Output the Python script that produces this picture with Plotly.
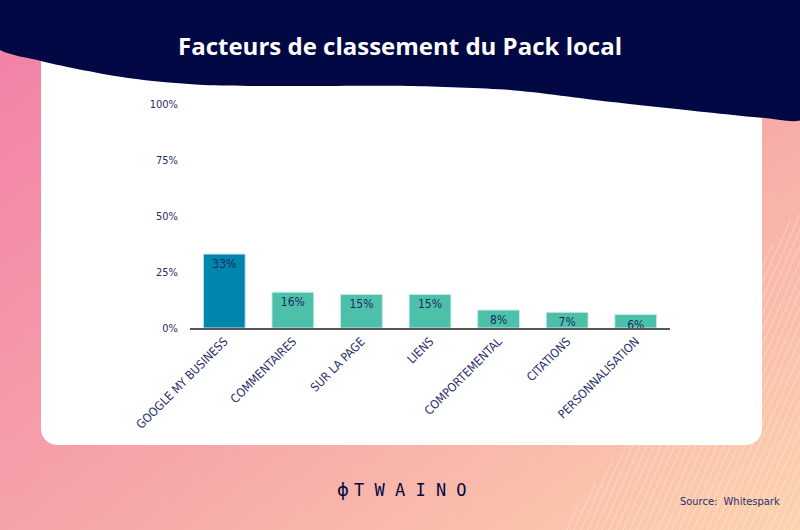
import numpy as np
import plotly.graph_objects as go

# data
categories = ["GOOGLE MY BUSINESS", "COMMENTAIRES", "SUR LA PAGE", "LIENS",
              "COMPORTEMENTAL", "CITATIONS", "PERSONNALISATION"]
values = [33, 16, 15, 15, 8, 7, 6]
bar_colors = ["#0085ad"] + ["#4dc0aa"] * 6
y_ticks = [0, 25, 50, 75, 100]
y_tick_labels = [f"{v}%" for v in y_ticks]
title_text = "Facteurs de classement du Pack local"
source_text = "Source:  Whitespark"

NAVY = "#020843"
TXT = "#2a2e6a"
FONT = "DejaVu Sans Condensed, Roboto, sans-serif"
W, H = 800, 530

fig = go.Figure()

# background gradient (pixel coordinates on a full-page helper axis)
fig.add_trace(go.Heatmap(
    x=[0, W], y=[0, H], z=[[0, 0.45], [0.45, 1]],
    zsmooth="best", showscale=False, hoverinfo="skip",
    colorscale=[[0, "#f17fa7"], [0.5, "#f6a6a9"], [1, "#fdd3ad"]],
    xaxis="x", yaxis="y",
))

# faint diagonal stripes in the bottom-right corner
sx, sy = [], []
for x0 in np.arange(560, 820, 7):
    t = 3.4 * (x0 - 560)
    sx += [x0, x0 + 0.45 * t, None]
    sy += [H, H - t, None]
fig.add_trace(go.Scatter(x=sx, y=sy, mode="lines", hoverinfo="skip",
                         line=dict(color="rgba(255,255,255,0.35)", width=1),
                         xaxis="x", yaxis="y", showlegend=False))

# white card with rounded corners
def rounded_rect(x0, y0, x1, y1, r):
    xs, ys = [], []
    corners = [(x1 - r, y1 - r, 0, 90), (x0 + r, y1 - r, 90, 180),
               (x0 + r, y0 + r, 180, 270), (x1 - r, y0 + r, 270, 360)]
    for cx, cy, a0, a1 in corners:
        a = np.radians(np.linspace(a0, a1, 12))
        xs += list(cx + r * np.cos(a))
        ys += list(cy + r * np.sin(a))
    return xs + [xs[0]], ys + [ys[0]]

cx_, cy_ = rounded_rect(41, 30, 762, 445, 16)
fig.add_trace(go.Scatter(x=cx_, y=cy_, fill="toself", fillcolor="white",
                         mode="lines", line=dict(width=0), hoverinfo="skip",
                         xaxis="x", yaxis="y", showlegend=False))

# navy wave header
wx = [-5, -5, 41, 128, 204, 306, 408, 510, 612, 714, 765, 805, 805]
wy = [-5, 46, 61, 78, 85, 86, 86, 90, 102, 113, 118, 118, -5]
fig.add_trace(go.Scatter(x=wx, y=wy, fill="toself", fillcolor=NAVY,
                         mode="lines", line=dict(width=0, shape="spline", smoothing=0.8),
                         hoverinfo="skip", xaxis="x", yaxis="y", showlegend=False))

# bars
fig.add_trace(go.Bar(
    x=categories, y=values,
    marker=dict(color=bar_colors, line=dict(color="rgba(200,235,240,0.9)", width=1)),
    width=0.61,
    text=[f"{v}%" for v in values],
    textposition="inside", insidetextanchor="end", constraintext="none",
    textfont=dict(color="#1b2a5e", size=12, family=FONT),
    xaxis="x2", yaxis="y2", showlegend=False,
))

fig.update_layout(
    width=W, height=H,
    margin=dict(l=0, r=0, t=0, b=0, autoexpand=False),
    paper_bgcolor="white", plot_bgcolor="rgba(0,0,0,0)",
    xaxis=dict(domain=[0, 1], range=[0, W], visible=False, fixedrange=True, automargin=False),
    yaxis=dict(domain=[0, 1], range=[H, 0], visible=False, fixedrange=True, automargin=False),
    xaxis2=dict(domain=[190 / W, 670 / W], anchor="y2", automargin=False,
                showline=True, linecolor="#555555", linewidth=1.5,
                showgrid=False, ticks="", tickangle=-45,
                tickfont=dict(size=12, color=TXT, family=FONT)),
    yaxis2=dict(domain=[(H - 328) / H, (H - 104) / H], anchor="x2", automargin=False,
                range=[0, 100], tickvals=y_ticks, ticktext=y_tick_labels,
                showgrid=False, zeroline=False, showline=False, ticks="",
                ticklabelstandoff=11,
                tickfont=dict(size=11, color=TXT, family=FONT)),
    annotations=[
        dict(text=f"<b>{title_text}</b>", x=400, y=45, xref="x", yref="y",
             showarrow=False, font=dict(size=24, color="white", family="Open Sans, sans-serif")),
        dict(text="T W A I N O", x=410, y=490, xref="x", yref="y",
             showarrow=False, font=dict(size=17, color=NAVY, family="DejaVu Sans Mono, monospace")),
        dict(text="ϕ", x=343, y=489, xref="x", yref="y",
             showarrow=False, font=dict(size=18, color=NAVY, family="DejaVu Sans, sans-serif")),
        dict(text=source_text, x=782, y=501, xref="x", yref="y", xanchor="right",
             showarrow=False, font=dict(size=11, color=TXT, family=FONT)),
    ],
)

# the page body has a default 8px margin; remove it so the figure fills the window
fig.write_html("out.html", config={"displayModeBar": False},
               post_script="document.body.style.margin='0';")
